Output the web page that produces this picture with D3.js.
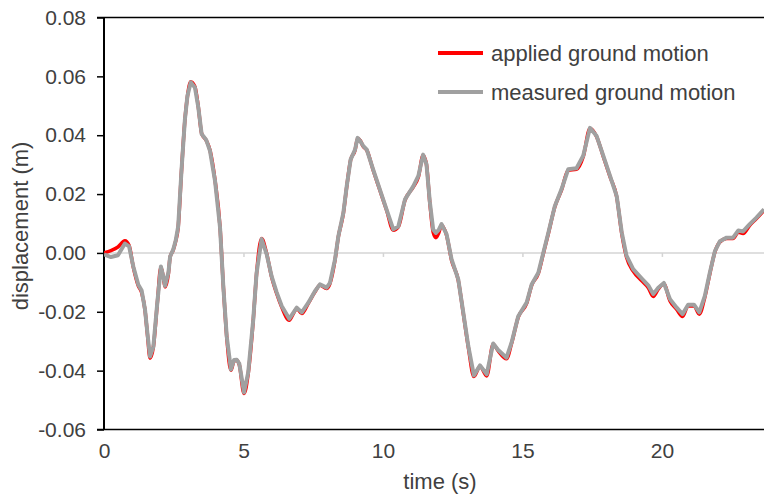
<!DOCTYPE html>
<html>
<head>
<meta charset="utf-8">
<script src="https://cdn.jsdelivr.net/npm/d3@7"></script>
<style>
  html, body { margin: 0; padding: 0; background: #fff; }
  svg { display: block; }
  text { font-family: "Liberation Sans", Arial, sans-serif; fill: #404040; }
</style>
</head>
<body>
<svg id="chart" width="764" height="497"></svg>
<script>
// time stamps (s)
const timeS = [
  0.00, 0.25, 0.50, 0.75, 0.90, 1.05, 1.23, 1.35, 1.47, 1.56,
  1.65, 1.77, 1.91, 2.04, 2.12, 2.19, 2.31, 2.37, 2.48, 2.57,
  2.66, 2.78, 2.90, 2.99, 3.11, 3.26, 3.38, 3.50, 3.66, 3.80,
  3.98, 4.16, 4.28, 4.40, 4.55, 4.66, 4.76, 4.85, 5.02, 5.17,
  5.35, 5.47, 5.65, 5.83, 6.01, 6.19, 6.37, 6.64, 6.79, 6.91,
  7.09, 7.32, 7.56, 7.74, 7.98, 8.10, 8.28, 8.40, 8.58, 8.70,
  8.84, 9.00, 9.09, 9.18, 9.29, 9.42, 9.65, 9.89, 10.13, 10.37,
  10.55, 10.79, 11.09, 11.27, 11.44, 11.56, 11.68, 11.80, 11.90, 12.00,
  12.10, 12.28, 12.46, 12.70, 12.88, 13.06, 13.26, 13.48, 13.72, 13.95,
  14.13, 14.43, 14.61, 14.85, 15.15, 15.33, 15.57, 15.75, 15.93, 16.16,
  16.40, 16.64, 16.94, 17.18, 17.42, 17.66, 17.90, 18.14, 18.38, 18.56,
  18.73, 18.97, 19.27, 19.51, 19.69, 19.87, 20.07, 20.29, 20.53, 20.74,
  20.94, 21.15, 21.34, 21.54, 21.72, 21.90, 22.08, 22.32, 22.55, 22.74,
  22.91, 23.15, 23.39, 23.66
];

// applied ground motion displacement (m)
const applied = [
  0.0000, 0.0008, 0.0020, 0.0041, 0.0025, -0.0048, -0.0112, -0.0135, -0.0195, -0.0280,
  -0.0358, -0.0320, -0.0172, -0.0048, -0.0080, -0.0116, -0.0070, -0.0014, 0.0009, 0.0040,
  0.0088, 0.0281, 0.0451, 0.0531, 0.0582, 0.0565, 0.0497, 0.0406, 0.0383, 0.0349,
  0.0247, 0.0088, -0.0116, -0.0286, -0.0399, -0.0368, -0.0365, -0.0380, -0.0478, -0.0410,
  -0.0229, -0.0070, 0.0049, -0.0002, -0.0082, -0.0138, -0.0184, -0.0229, -0.0206, -0.0189,
  -0.0206, -0.0172, -0.0133, -0.0110, -0.0121, -0.0104, -0.0025, 0.0054, 0.0134, 0.0224,
  0.0315, 0.0349, 0.0389, 0.0383, 0.0362, 0.0349, 0.0281, 0.0213, 0.0145, 0.0077,
  0.0088, 0.0179, 0.0224, 0.0258, 0.0332, 0.0300, 0.0170, 0.0070, 0.0052, 0.0068,
  0.0094, 0.0060, -0.0025, -0.0093, -0.0206, -0.0320, -0.0420, -0.0385, -0.0418, -0.0310,
  -0.0333, -0.0360, -0.0308, -0.0218, -0.0172, -0.0110, -0.0070, -0.0002, 0.0066, 0.0156,
  0.0213, 0.0281, 0.0284, 0.0327, 0.0423, 0.0395, 0.0327, 0.0259, 0.0190, 0.0066,
  -0.0014, -0.0062, -0.0094, -0.0118, -0.0148, -0.0123, -0.0106, -0.0163, -0.0192, -0.0216,
  -0.0180, -0.0180, -0.0208, -0.0150, -0.0070, 0.0003, 0.0037, 0.0049, 0.0049, 0.0070,
  0.0066, 0.0094, 0.0117, 0.0145
];

// measured ground motion displacement (m)
const measured = [
  -0.0005, -0.0014, -0.0008, 0.0032, 0.0022, -0.0046, -0.0108, -0.0128, -0.0192, -0.0276,
  -0.0352, -0.0318, -0.0170, -0.0046, -0.0078, -0.0112, -0.0066, -0.0012, 0.0011, 0.0042,
  0.0090, 0.0283, 0.0453, 0.0533, 0.0580, 0.0562, 0.0495, 0.0404, 0.0385, 0.0347,
  0.0245, 0.0086, -0.0118, -0.0284, -0.0396, -0.0364, -0.0363, -0.0376, -0.0474, -0.0406,
  -0.0227, -0.0068, 0.0047, -0.0004, -0.0080, -0.0134, -0.0180, -0.0224, -0.0203, -0.0186,
  -0.0202, -0.0170, -0.0130, -0.0107, -0.0118, -0.0102, -0.0023, 0.0056, 0.0136, 0.0226,
  0.0317, 0.0351, 0.0391, 0.0381, 0.0364, 0.0351, 0.0283, 0.0215, 0.0147, 0.0080,
  0.0090, 0.0182, 0.0227, 0.0262, 0.0334, 0.0302, 0.0174, 0.0080, 0.0068, 0.0078,
  0.0098, 0.0064, -0.0022, -0.0090, -0.0203, -0.0317, -0.0416, -0.0382, -0.0412, -0.0308,
  -0.0330, -0.0356, -0.0305, -0.0215, -0.0169, -0.0107, -0.0067, 0.0001, 0.0069, 0.0159,
  0.0216, 0.0284, 0.0288, 0.0330, 0.0425, 0.0397, 0.0330, 0.0262, 0.0193, 0.0070,
  -0.0009, -0.0055, -0.0086, -0.0110, -0.0140, -0.0118, -0.0102, -0.0157, -0.0186, -0.0208,
  -0.0176, -0.0176, -0.0202, -0.0146, -0.0066, 0.0006, 0.0040, 0.0052, 0.0052, 0.0076,
  0.0073, 0.0098, 0.0120, 0.0148
];

const xTicks = [0, 5, 10, 15, 20];
const yTicks = [-0.06, -0.04, -0.02, 0.00, 0.02, 0.04, 0.06, 0.08];
const seriesNames = ["applied ground motion", "measured ground motion"];
const seriesColors = ["#ff0000", "#a0a0a0"];

const svg = d3.select("#chart");
const plotL = 104, plotR = 764, plotT = 17.5, plotB = 429.5;

const x = d3.scaleLinear().domain([0, 23.66]).range([plotL, plotR]);
const y = d3.scaleLinear().domain([-0.06, 0.08]).range([plotB, plotT]);
const fontFam = '"Liberation Sans", Arial, sans-serif';

// zero reference line
svg.append("line")
  .attr("x1", plotL).attr("x2", plotR)
  .attr("y1", y(0)).attr("y2", y(0))
  .attr("stroke", "#d4d4d4").attr("stroke-width", 1.5);

// small time ticks hanging off the zero line
svg.append("g")
  .attr("transform", `translate(0,${y(0)})`)
  .call(d3.axisBottom(x).tickValues(xTicks.filter(d => d > 0)).tickSize(4).tickFormat(""))
  .call(g => g.select(".domain").remove())
  .call(g => g.selectAll(".tick line").attr("stroke", "#d4d4d4").attr("stroke-width", 1.5));

// frame: top and bottom borders
svg.append("line").attr("x1", plotL - 7).attr("x2", plotR).attr("y1", plotT).attr("y2", plotT)
  .attr("stroke", "#000").attr("stroke-width", 1.5);
svg.append("line").attr("x1", plotL - 7).attr("x2", plotR).attr("y1", plotB).attr("y2", plotB)
  .attr("stroke", "#000").attr("stroke-width", 1.5);

// y axis
const yAxis = svg.append("g")
  .attr("transform", `translate(${plotL},0)`)
  .call(d3.axisLeft(y).tickValues(yTicks).tickSize(7).tickPadding(11)
    .tickFormat(d => d3.format(".2f")(d).replace("\u2212", "-")));
yAxis.select(".domain").attr("stroke", "#000").attr("stroke-width", 2).attr("d", `M0,${plotT}V${plotB}`);
yAxis.selectAll(".tick line").attr("stroke", "#000").attr("stroke-width", 1.5);
yAxis.selectAll(".tick text")
  .attr("font-size", 21).attr("fill", "#404040").style("font-family", fontFam);

// x axis labels along the bottom
const xAxis = svg.append("g")
  .attr("transform", `translate(0,${plotB})`)
  .call(d3.axisBottom(x).tickValues(xTicks).tickSize(0).tickPadding(14).tickFormat(d3.format("d")));
xAxis.select(".domain").remove();
xAxis.selectAll(".tick text")
  .attr("font-size", 21).attr("fill", "#404040").style("font-family", fontFam);

// axis titles
svg.append("text")
  .attr("x", 440).attr("y", 489)
  .attr("text-anchor", "middle").attr("font-size", 22)
  .text("time (s)");
svg.append("text")
  .attr("transform", "translate(28,226) rotate(-90)")
  .attr("text-anchor", "middle").attr("font-size", 22)
  .text("displacement (m)");

// series
const lineSmooth = d3.line().x((d, i) => x(timeS[i])).y(d => y(d)).curve(d3.curveMonotoneX);
const lineRaw = d3.line().x((d, i) => x(timeS[i])).y(d => y(d)).curve(d3.curveLinear);

svg.append("clipPath").attr("id", "plot-clip")
  .append("rect").attr("x", plotL).attr("y", plotT - 5).attr("width", plotR - plotL).attr("height", plotB - plotT + 5);

const plot = svg.append("g").attr("clip-path", "url(#plot-clip)");
plot.append("path").datum(applied)
  .attr("d", lineSmooth)
  .attr("fill", "none").attr("stroke", seriesColors[0]).attr("stroke-width", 3.5)
  .attr("stroke-linejoin", "round");
plot.append("path").datum(measured)
  .attr("d", lineRaw)
  .attr("fill", "none").attr("stroke", seriesColors[1]).attr("stroke-width", 4)
  .attr("stroke-linejoin", "round");

// legend
const legend = svg.append("g");
seriesNames.forEach((name, i) => {
  const ly = 53 + i * 39;
  legend.append("line")
    .attr("x1", 438).attr("x2", 483).attr("y1", ly).attr("y2", ly)
    .attr("stroke", seriesColors[i]).attr("stroke-width", 4);
  legend.append("text")
    .attr("x", 491).attr("y", ly + 8)
    .attr("font-size", 22)
    .text(name);
});
</script>
</body>
</html>
